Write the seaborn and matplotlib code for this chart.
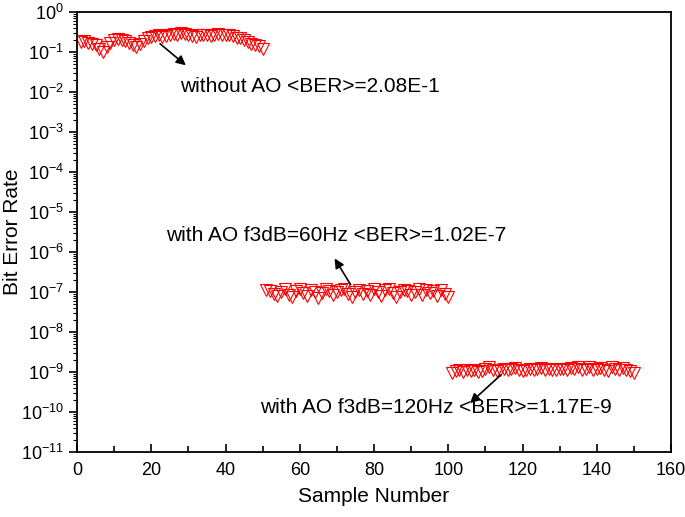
import numpy as np
import pandas as pd
import matplotlib
matplotlib.use("Agg")
import matplotlib.pyplot as plt
import seaborn as sns

# Datos
muestras_sin_ao = list(range(1, 51))
ber_sin_ao = [0.18, 0.19, 0.17, 0.16, 0.15, 0.12, 0.10, 0.13, 0.17, 0.20,
              0.21, 0.20, 0.19, 0.17, 0.15, 0.13, 0.16, 0.19, 0.22, 0.24,
              0.25, 0.26, 0.24, 0.25, 0.27, 0.28, 0.27, 0.29, 0.28, 0.27,
              0.25, 0.24, 0.26, 0.27, 0.26, 0.25, 0.27, 0.28, 0.26, 0.27,
              0.26, 0.25, 0.23, 0.22, 0.20, 0.18, 0.16, 0.15, 0.14, 0.12]

muestras_60hz = list(range(51, 101))
ber_60hz = [v * 1e-7 for v in [
    1.15, 1.05, 0.90, 0.78, 1.00, 1.18, 0.85, 0.75, 1.08, 1.22,
    0.92, 0.80, 1.15, 1.00, 0.72, 0.95, 1.20, 1.05, 0.82, 0.98,
    1.10, 1.22, 0.88, 0.76, 1.02, 1.15, 0.90, 1.08, 0.85, 1.18,
    1.00, 0.80, 1.12, 1.22, 0.92, 0.74, 0.98, 1.15, 1.05, 0.82,
    1.00, 1.18, 0.86, 1.10, 0.92, 1.08, 0.80, 1.15, 0.88, 0.76]]

muestras_120hz = list(range(101, 151))
ber_120hz = [v * 1e-9 for v in [
    0.95, 1.05, 1.10, 0.98, 1.12, 1.05, 1.15, 1.00, 1.08, 1.20,
    1.30, 1.10, 1.05, 1.15, 1.22, 1.10, 1.18, 1.25, 1.12, 1.08,
    1.15, 1.20, 1.10, 1.18, 1.25, 1.12, 1.20, 1.15, 1.10, 1.22,
    1.18, 1.12, 1.25, 1.20, 1.30, 1.15, 1.22, 1.35, 1.10, 1.18,
    1.25, 1.15, 1.05, 1.30, 1.20, 1.10, 1.25, 1.15, 1.05, 0.95]]

df = pd.DataFrame({
    "Sample Number": muestras_sin_ao + muestras_60hz + muestras_120hz,
    "Bit Error Rate": ber_sin_ao + ber_60hz + ber_120hz,
})

sns.set_style("ticks")
plt.rcParams["font.family"] = ["Liberation Sans", "DejaVu Sans"]
plt.rcParams["mathtext.fontset"] = "custom"
plt.rcParams["mathtext.rm"] = "Liberation Sans"
plt.rcParams["mathtext.default"] = "regular"
for clave in ["text.color", "axes.labelcolor", "xtick.color", "ytick.color"]:
    plt.rcParams[clave] = "black"

fig = plt.figure(figsize=(6.85, 5.17), dpi=100)
ax = fig.add_axes([0.1124, 0.1257, 0.8672, 0.8511])

sns.lineplot(data=df, x="Sample Number", y="Bit Error Rate", ax=ax,
             linestyle="", marker="v", markersize=8, markerfacecolor="none",
             markeredgecolor="red", markeredgewidth=0.8, sort=False)

ax.set_yscale("log")
ax.set_xlim(0, 160)
ax.set_ylim(1e-11, 1e0)
ax.set_xticks(range(0, 161, 20))
ax.set_xticks(range(10, 161, 20), minor=True)
ax.yaxis.set_major_locator(matplotlib.ticker.LogLocator(base=10, numticks=20))
ax.yaxis.set_minor_locator(matplotlib.ticker.LogLocator(base=10, subs=np.arange(2, 10), numticks=20))
ax.yaxis.set_minor_formatter(matplotlib.ticker.NullFormatter())

ax.tick_params(axis="x", which="major", direction="in", length=6, width=1.2, labelsize=13, pad=7)
ax.tick_params(axis="x", which="minor", direction="in", length=4, width=1.2)
ax.tick_params(axis="y", which="major", direction="out", length=6, width=1.2, labelsize=13)
ax.tick_params(axis="y", which="minor", direction="out", length=3, width=0.8)
for lado in ax.spines.values():
    lado.set_linewidth(1.3)
    lado.set_color("black")

ax.set_xlabel("Sample Number", fontsize=15, labelpad=6)
ax.set_ylabel("Bit Error Rate", fontsize=15)
ax.yaxis.set_label_coords(-0.092, 0.5)

# Anotaciones
flecha = dict(arrowstyle="-|>", color="black", lw=1.2, mutation_scale=14)
ax.annotate("", xy=(29.9, 0.042), xytext=(21.8, 0.178), arrowprops=flecha)
ax.text(27.8, 0.014, "without AO <BER>=2.08E-1", fontsize=15, va="center", ha="left")

ax.annotate("", xy=(69.0, 7.9e-7), xytext=(74.1, 1.33e-7), arrowprops=flecha)
ax.text(24.0, 2.6e-6, "with AO f3dB=60Hz <BER>=1.02E-7", fontsize=15, va="center", ha="left")

ax.annotate("", xy=(105.3, 1.5e-10), xytext=(114.7, 9.4e-10), arrowprops=flecha)
ax.text(144.1, 1.3e-10, "with AO f3dB=120Hz <BER>=1.17E-9", fontsize=15, va="center", ha="right")

fig.savefig("out.png", dpi=100)
